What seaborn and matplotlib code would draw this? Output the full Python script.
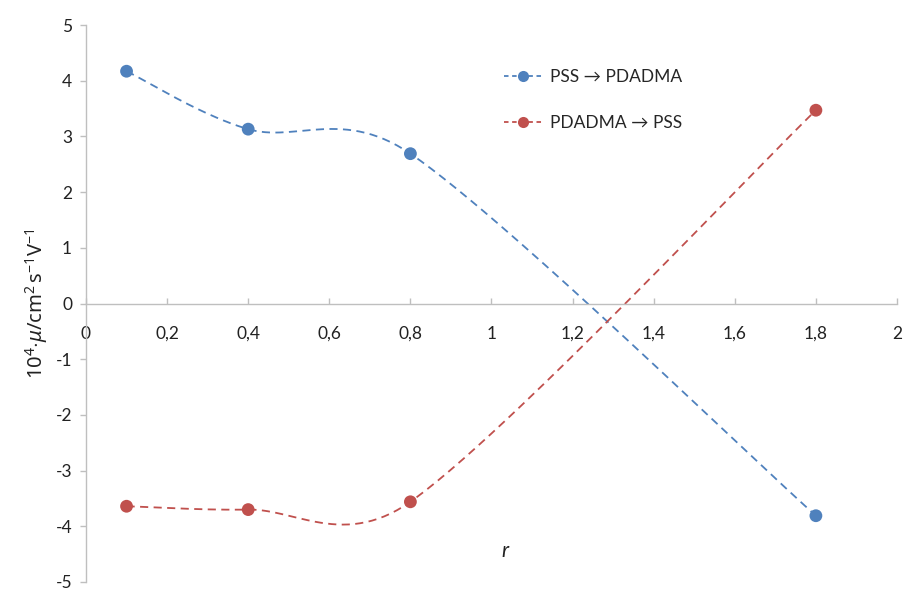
import matplotlib
matplotlib.use("Agg")
import matplotlib.pyplot as plt
import numpy as np
import pandas as pd
import seaborn as sns
from matplotlib.lines import Line2D

# data
r_values = [0.1, 0.4, 0.8, 1.8]
pss_to_pdadma = [4.17, 3.13, 2.69, -3.81]
pdadma_to_pss = [-3.64, -3.70, -3.56, 3.47]
series_names = ["PSS \u2192 PDADMA", "PDADMA \u2192 PSS"]
series_colors = ["#4F81BD", "#C0504D"]

x_ticks = [0, 0.2, 0.4, 0.6, 0.8, 1.0, 1.2, 1.4, 1.6, 1.8, 2.0]
x_tick_labels = ["0", "0,2", "0,4", "0,6", "0,8", "1", "1,2", "1,4", "1,6", "1,8", "2"]
y_ticks = [-5, -4, -3, -2, -1, 0, 1, 2, 3, 4, 5]


def excel_smooth(x, y, ax, n_steps=60):
    """Bezier smoothing like Excel's 'smoothed line', computed in pixel space."""
    pts = ax.transData.transform(np.column_stack([x, y]))
    n = len(pts)
    t = np.linspace(0, 1, n_steps)[:, None]
    out = []
    for i in range(n - 1):
        p0 = pts[max(i - 1, 0)]
        p1 = pts[i]
        p2 = pts[i + 1]
        p3 = pts[min(i + 2, n - 1)]
        seg = np.linalg.norm(p2 - p1)
        d1 = (p2 - p0) / 6
        d2 = (p3 - p1) / 6
        # keep control points within half of the segment length
        for d in (d1, d2):
            norm = np.linalg.norm(d)
            if norm > seg / 2:
                d *= (seg / 2) / norm
        c1 = p1 + d1
        c2 = p2 - d2
        curve = ((1 - t) ** 3) * p1 + 3 * ((1 - t) ** 2) * t * c1 \
            + 3 * (1 - t) * t ** 2 * c2 + t ** 3 * p2
        out.append(curve if i == 0 else curve[1:])
    out = np.vstack(out)
    return ax.transData.inverted().transform(out)


sns.set_theme(style="white")
plt.rcParams["font.family"] = ["Lato", "DejaVu Sans"]
plt.rcParams["axes.unicode_minus"] = False
plt.rcParams["mathtext.fontset"] = "custom"
plt.rcParams["mathtext.rm"] = "Noto Sans"
plt.rcParams["mathtext.it"] = "Noto Sans:italic"

fig = plt.figure(figsize=(9.04, 5.92), dpi=100)
ax = fig.add_axes([86 / 904, 1 - 582 / 592, (897 - 86) / 904, (582 - 25) / 592])
ax.set_xlim(0, 2)
ax.set_ylim(-5, 5)

frames = []
for name, values in zip(series_names, [pss_to_pdadma, pdadma_to_pss]):
    smooth = excel_smooth(r_values, values, ax)
    frames.append(pd.DataFrame({"r": smooth[:, 0], "mu": smooth[:, 1],
                                "series": name, "order": np.arange(len(smooth))}))
curves = pd.concat(frames, ignore_index=True)

points = pd.DataFrame({
    "r": r_values * 2,
    "mu": pss_to_pdadma + pdadma_to_pss,
    "series": [series_names[0]] * 4 + [series_names[1]] * 4,
})

palette = dict(zip(series_names, series_colors))
sns.lineplot(data=curves, x="r", y="mu", hue="series", palette=palette,
             sort=False, estimator=None, units="series", linewidth=1.3,
             dashes=False, linestyle=(0, (4.5, 3)), legend=False, ax=ax)
sns.scatterplot(data=points, x="r", y="mu", hue="series", palette=palette,
                s=85, edgecolor="none", legend=False, ax=ax, zorder=3)

ax.set_xlim(0, 2)
ax.set_ylim(-5, 5)

# axes styling (Excel-like: x axis crosses at zero)
for side in ["top", "right"]:
    ax.spines[side].set_visible(False)
ax.spines["bottom"].set_position(("data", 0))
for side in ["left", "bottom"]:
    ax.spines[side].set_color("#BFBFBF")
    ax.spines[side].set_linewidth(1.0)

ax.set_xticks(x_ticks)
ax.set_xticklabels(x_tick_labels)
ax.set_yticks(y_ticks)
ax.set_yticklabels([str(v) for v in y_ticks])
ax.tick_params(axis="x", direction="in", length=4, width=1, color="#BFBFBF",
               pad=16, labelsize=12.5, labelcolor="#222222")
ax.tick_params(axis="y", direction="out", length=4, width=1, color="#BFBFBF",
               pad=6, labelsize=12.5, labelcolor="#222222")
ax.tick_params(bottom=True, left=True)

ax.set_xlabel("")
ax.set_ylabel(r"$10^4{\cdot}\mathit{\mu}/\mathrm{cm}^2\,\mathrm{s}^{-1}\mathrm{V}^{-1}$",
              fontsize=14.5, color="#222222", labelpad=4)
fig.text(505 / 904, 1 - 551 / 592, "r", fontsize=15, style="italic",
         ha="center", va="center", color="#222222")

handles = [
    Line2D([0], [0], color=c, linestyle=(0, (2.5, 2)), linewidth=1.3,
           marker="o", markersize=8, markeredgewidth=0)
    for c in series_colors
]
ax.legend(handles, series_names, loc="upper left",
          bbox_to_anchor=(488 / 904, 1 - 53 / 592), bbox_transform=fig.transFigure,
          frameon=False, fontsize=12.5, labelspacing=1.75, handlelength=2.2,
          handletextpad=0.45)

fig.savefig("out.png", dpi=100)
